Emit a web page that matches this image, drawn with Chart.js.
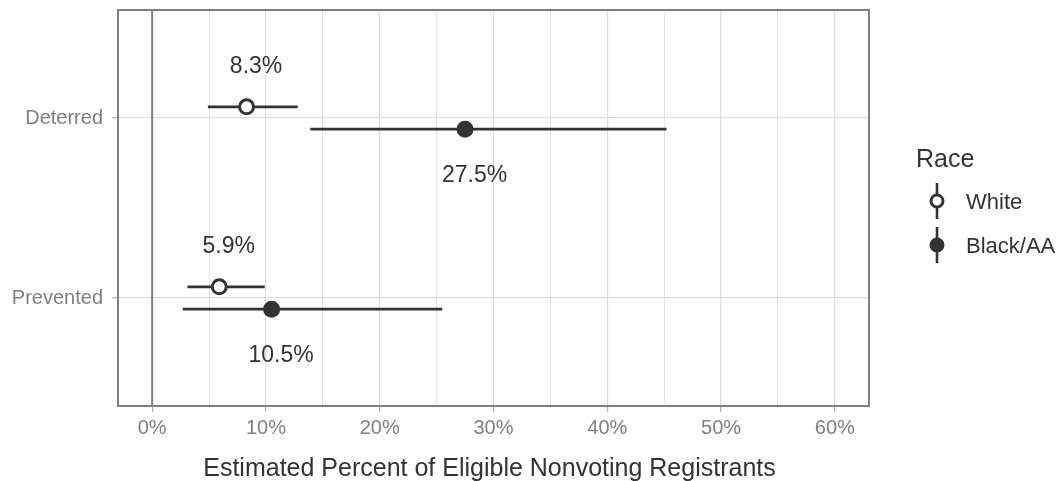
<!DOCTYPE html>
<html><head><meta charset="utf-8">
<script src="https://cdn.jsdelivr.net/npm/chart.js@4"></script>
<style>html,body{margin:0;padding:0;background:#fff}</style>
</head><body>
<canvas id="c" width="1062" height="481" style="width:1062px;height:481px;display:block"></canvas>
<script>
// ---- data ----
const categories = ['Prevented', 'Deterred'];
const races = ['White', 'Black/AA'];
const whiteEst  = [5.9, 8.3];
const whiteLow  = [3.1, 4.9];
const whiteHigh = [9.9, 12.8];
const blackEst  = [10.5, 27.5];
const blackLow  = [2.7, 13.9];
const blackHigh = [25.5, 45.2];
const xTickValues = [0, 5, 10, 15, 20, 25, 30, 35, 40, 45, 50, 55, 60];
const xTickLabelled = [0, 10, 20, 30, 40, 50, 60];
const xAxisTitle = 'Estimated Percent of Eligible Nonvoting Registrants';
const legendTitle = 'Race';

const FONT = '"Liberation Sans", Arial, Helvetica, sans-serif';
const DODGE = 0.062;
const INK = '#333333';

const series = [
  { name: races[0], est: whiteEst, lo: whiteLow, hi: whiteHigh, dy: DODGE, fill: '#ffffff', labelDy: -33.5 },
  { name: races[1], est: blackEst, lo: blackLow, hi: blackHigh, dy: -DODGE, fill: INK, labelDy: 53 }
];

const datasets = [];
series.forEach((s, si) => {
  datasets.push({
    label: s.name,
    type: 'scatter',
    data: s.est.map((v, i) => ({ x: v, y: i + 1 + s.dy })),
    pointRadius: 7,
    pointHoverRadius: 7,
    pointBorderWidth: 3,
    pointBackgroundColor: s.fill,
    pointBorderColor: INK,
    order: 0
  });
  s.est.forEach((v, i) => {
    datasets.push({
      label: s.name + ' range ' + categories[i],
      type: 'scatter',
      showLine: true,
      data: [{ x: s.lo[i], y: i + 1 + s.dy }, { x: s.hi[i], y: i + 1 + s.dy }],
      borderColor: INK,
      borderWidth: 2.6,
      pointRadius: 0,
      order: 1
    });
  });
});

const decorPlugin = {
  id: 'decor',
  beforeDatasetsDraw(chart) {
    const { ctx, chartArea: a, scales: { x } } = chart;
    ctx.save();
    const x0 = x.getPixelForValue(0);
    ctx.strokeStyle = '#808080';
    ctx.lineWidth = 2;
    ctx.beginPath(); ctx.moveTo(x0, a.top); ctx.lineTo(x0, a.bottom); ctx.stroke();
    ctx.strokeRect(a.left, a.top, a.right - a.left, a.bottom - a.top);
    ctx.restore();
  },
  afterDraw(chart) {
    const { ctx, chartArea: a, scales: { x, y } } = chart;
    ctx.save();
    // value labels
    ctx.fillStyle = INK;
    ctx.font = '23px ' + FONT;
    ctx.textAlign = 'center';
    ctx.textBaseline = 'alphabetic';
    series.forEach(s => {
      s.est.forEach((v, i) => {
        const px = x.getPixelForValue(v) + 9.5;
        const py = y.getPixelForValue(i + 1 + s.dy) + s.labelDy;
        ctx.fillText(v.toFixed(1) + '%', px, py);
      });
    });
    // axis title
    ctx.font = '25px ' + FONT;
    ctx.fillText(xAxisTitle, (a.left + a.right) / 2 - 4, 476);
    // legend
    ctx.textAlign = 'left';
    ctx.fillText(legendTitle, 916, 167);
    ctx.font = '22px ' + FONT;
    series.forEach((s, k) => {
      const cy = 201 + k * 44;
      const kx = 937;
      ctx.strokeStyle = INK;
      ctx.lineWidth = 2.6;
      ctx.beginPath(); ctx.moveTo(kx, cy - 18); ctx.lineTo(kx, cy + 18); ctx.stroke();
      ctx.beginPath(); ctx.arc(kx, cy, 6, 0, Math.PI * 2);
      ctx.fillStyle = s.fill; ctx.fill();
      ctx.lineWidth = 3; ctx.stroke();
      ctx.fillStyle = INK;
      ctx.fillText(s.name, 966, cy + 8);
    });
    ctx.restore();
  }
};

new Chart(document.getElementById('c'), {
  type: 'scatter',
  data: { datasets },
  options: {
    responsive: false,
    animation: false,
    events: [],
    layout: { padding: { top: 9, right: 193, bottom: 0, left: 0 } },
    plugins: { legend: { display: false }, tooltip: { enabled: false } },
    scales: {
      x: {
        type: 'linear', min: -3, max: 63,
        afterBuildTicks: s => { s.ticks = xTickValues.map(v => ({ value: v })); },
        afterFit: s => { s.height = 75; s.paddingLeft = 0; s.paddingRight = 0; },
        border: { display: false },
        grid: {
          color: '#dcdcdc',
          lineWidth: c => (xTickLabelled.includes(c.tick && c.tick.value) ? 1.2 : 0.8),
          tickLength: 6,
          tickColor: c => (xTickLabelled.includes(c.tick && c.tick.value) ? '#b3b3b3' : 'rgba(0,0,0,0)'),
          tickWidth: 1.2
        },
        ticks: {
          autoSkip: false, maxRotation: 0, padding: 4,
          color: '#7f7f7f', font: { family: FONT, size: 20 },
          callback: v => (xTickLabelled.includes(v) ? v + '%' : '')
        }
      },
      y: {
        type: 'linear', min: 0.4, max: 2.6,
        afterBuildTicks: s => { s.ticks = categories.map((c, i) => ({ value: i + 1 })); },
        afterFit: s => { s.width = 118; s.paddingTop = 0; s.paddingBottom = 0; },
        border: { display: false },
        grid: { color: '#dcdcdc', lineWidth: 1.2, tickLength: 6, tickColor: '#b3b3b3', tickWidth: 1.2 },
        ticks: {
          padding: 9, color: '#7f7f7f', font: { family: FONT, size: 20 },
          callback: v => categories[v - 1] || ''
        }
      }
    }
  },
  plugins: [decorPlugin]
});
</script>
</body></html>
